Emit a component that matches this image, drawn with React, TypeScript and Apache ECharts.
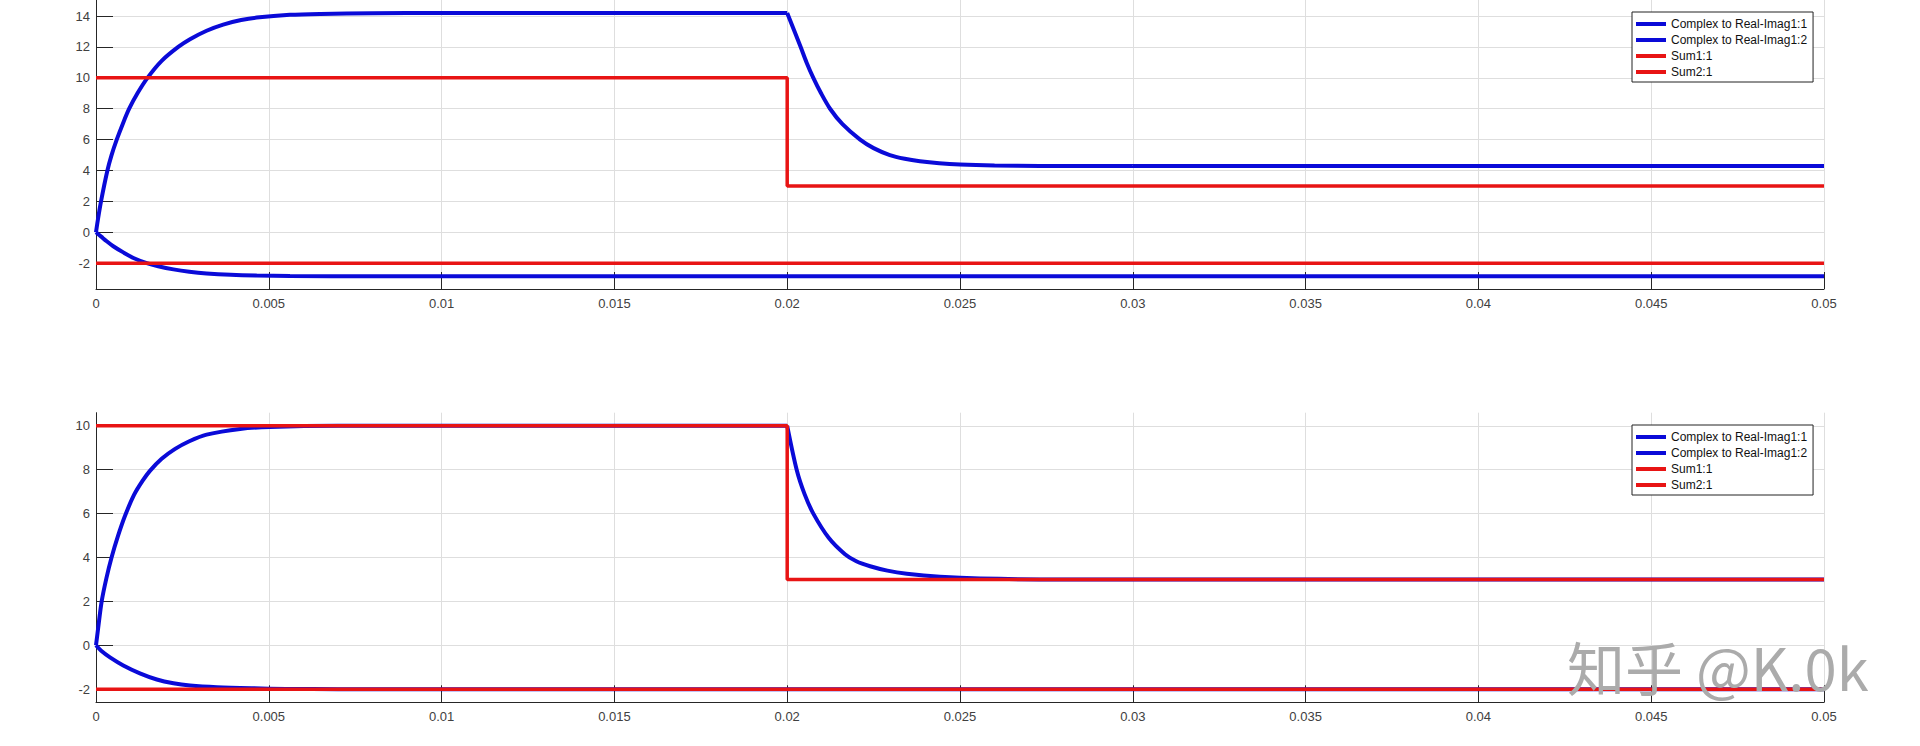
import React, { useEffect, useRef } from "react";
import * as echarts from "echarts";

type Pt = [number, number];

const seriesNames = ["Complex to Real-Imag1:1", "Complex to Real-Imag1:2", "Sum1:1", "Sum2:1"];
const topYTicks = [-2, 0, 2, 4, 6, 8, 10, 12, 14];
const bottomYTicks = [-2, 0, 2, 4, 6, 8, 10];

// Top panel
const topImag1Rise: Pt[] = [
  [0, 0], [0.00005, 0.75], [0.000145, 2], [0.00033, 4], [0.00045, 5], [0.0006, 6], [0.00078, 7.05],
  [0.00096, 8], [0.0012, 9], [0.00149, 10], [0.0019, 11.1], [0.00238, 12], [0.00272, 12.5],
  [0.0032, 13.05], [0.00368, 13.45], [0.0042, 13.74], [0.00465, 13.9], [0.00561, 14.08],
  [0.0065, 14.14], [0.008, 14.18], [0.01, 14.2], [0.02, 14.2],
];
const topImag1Fall: Pt[] = [
  [0.02, 14.2], [0.02039, 12], [0.02056, 11], [0.020756, 10], [0.02098, 9], [0.02124, 8], [0.0216, 7],
  [0.02211, 6], [0.0225, 5.45], [0.02297, 5.0], [0.0234, 4.76], [0.02384, 4.6], [0.0244, 4.47],
  [0.025, 4.39], [0.026, 4.33], [0.02731, 4.3], [0.03, 4.29], [0.05, 4.29],
];
const topImag2: Pt[] = [
  [0, 0], [0.00015, -0.28], [0.00031, -0.58], [0.0005, -0.9], [0.00079, -1.3], [0.0011, -1.68],
  [0.00147, -2.0], [0.0018, -2.2], [0.00224, -2.4], [0.0027, -2.55], [0.0032, -2.66],
  [0.0039, -2.75], [0.00465, -2.8], [0.00561, -2.83], [0.008, -2.84], [0.05, -2.84],
];
const topSum1: Pt[] = [[0, 10], [0.02, 10], [0.02, 3], [0.05, 3]];
const topSum2: Pt[] = [[0, -2], [0.05, -2]];

// Bottom panel
const bottomImag1Rise: Pt[] = [
  [0, 0], [0.00006, 0.75], [0.000164, 2], [0.0003, 3.05], [0.00045, 4], [0.00063, 4.95], [0.00084, 5.9],
  [0.0011, 6.85], [0.00135, 7.5], [0.00156, 7.95], [0.0019, 8.5], [0.00229, 8.95], [0.0027, 9.3],
  [0.0032, 9.6], [0.00417, 9.86], [0.00503, 9.95], [0.007, 10], [0.02, 10],
];
const bottomImag1Fall: Pt[] = [
  [0.02, 10], [0.020274, 8], [0.0205, 6.9], [0.020756, 6], [0.0212, 4.9], [0.021672, 4.15], [0.022, 3.83],
  [0.0224, 3.6], [0.0229, 3.4], [0.02346, 3.26], [0.02442, 3.12], [0.02558, 3.04], [0.028, 3.0],
  [0.05, 3.0],
];
const bottomImag2: Pt[] = [
  [0, 0], [0.00015, -0.25], [0.000405, -0.55], [0.00079, -0.92], [0.00127, -1.28],
  [0.00176, -1.56], [0.00224, -1.73], [0.00272, -1.83], [0.0035, -1.91], [0.0045, -1.96],
  [0.0055, -1.99], [0.007, -2], [0.05, -2],
];
const bottomSum1: Pt[] = [[0, 10], [0.02, 10], [0.02, 3], [0.05, 3]];
const bottomSum2: Pt[] = [[0, -2], [0.05, -2]];

const BLUE = "#0a0ad8";
const RED = "#e81414";
const FONT = "'Liberation Sans', Arial, sans-serif";

function xAxisCfg(gridIndex: number) {
  return {
    type: "value" as const,
    gridIndex,
    min: 0,
    max: 0.05,
    interval: 0.005,
    axisLine: { show: true, onZero: false, lineStyle: { color: "#262626", width: 1 } },
    axisTick: { show: true, inside: true, length: 17, lineStyle: { color: "#262626", width: 1 } },
    axisLabel: { color: "#404040", fontSize: 13, margin: 8, fontFamily: FONT },
    splitLine: { show: true, lineStyle: { color: "#dedede", width: 1 } },
  };
}

function yAxisCfg(gridIndex: number, min: number, max: number, ticks: number[]) {
  return {
    type: "value" as const,
    gridIndex,
    min,
    max,
    axisLine: { show: true, onZero: false, lineStyle: { color: "#262626", width: 1 } },
    axisTick: { show: true, inside: true, length: 17, customValues: ticks, lineStyle: { color: "#262626", width: 1 } },
    axisLabel: { color: "#404040", fontSize: 13, margin: 6, fontFamily: FONT, customValues: ticks },
    splitLine: { show: true, lineStyle: { color: "#dedede", width: 1 } },
  };
}

function lineSeries(name: string, data: Pt[], color: string, idx: number, width: number, smooth: number | false) {
  return {
    type: "line" as const,
    name,
    data,
    xAxisIndex: idx,
    yAxisIndex: idx,
    showSymbol: false,
    symbol: "none",
    smooth,
    color,
    lineStyle: { color, width },
  };
}

function legendCfg(top: number) {
  return {
    data: seriesNames,
    orient: "vertical" as const,
    left: 1632,
    top,
    icon: "rect",
    itemWidth: 30,
    itemHeight: 4,
    itemGap: 0,
    padding: [4, 6, 2, 4],
    borderColor: "#222",
    borderWidth: 1,
    borderRadius: 0,
    backgroundColor: "#fff",
    selectedMode: false,
    textStyle: { color: "#111", fontSize: 12, fontFamily: FONT, lineHeight: 16 },
  };
}

export default function App() {
  const ref = useRef<HTMLDivElement>(null);
  useEffect(() => {
    if (!ref.current) return;
    const chart = echarts.init(ref.current, undefined, { renderer: "svg" });
    chart.setOption({
      animation: false,
      backgroundColor: "#fff",
      grid: [
        { left: 96, top: 0, width: 1728, height: 289 },
        { left: 96, top: 412.7, width: 1728, height: 289.6 },
      ],
      xAxis: [xAxisCfg(0), xAxisCfg(1)],
      yAxis: [yAxisCfg(0, -3.67, 15.04, topYTicks), yAxisCfg(1, -2.6, 10.6, bottomYTicks)],
      legend: [legendCfg(12), legendCfg(425)],
      series: [
        lineSeries(seriesNames[0], topImag1Rise, BLUE, 0, 4, 0.3),
        lineSeries(seriesNames[0], topImag1Fall, BLUE, 0, 4, 0.3),
        lineSeries(seriesNames[1], topImag2, BLUE, 0, 4, 0.3),
        lineSeries(seriesNames[2], topSum1, RED, 0, 3.5, false),
        lineSeries(seriesNames[3], topSum2, RED, 0, 3.5, false),
        lineSeries(seriesNames[0], bottomImag1Rise, BLUE, 1, 4, 0.3),
        lineSeries(seriesNames[0], bottomImag1Fall, BLUE, 1, 4, 0.3),
        lineSeries(seriesNames[1], bottomImag2, BLUE, 1, 4, 0.3),
        lineSeries(seriesNames[2], bottomSum1, RED, 1, 3.5, false),
        lineSeries(seriesNames[3], bottomSum2, RED, 1, 3.5, false),
      ],
      graphic: [
        {
          type: "text",
          x: 1567,
          y: 637,
          z: 101,
          style: {
            text: "知乎 @K.0k",
            fill: "#ababab",
            font: "58px 'Noto Sans CJK SC', sans-serif",
            textVerticalAlign: "top",
            shadowColor: "#ffffff",
            shadowBlur: 0,
            shadowOffsetX: -3,
            shadowOffsetY: 2,
          },
        },
      ],
    });
    return () => chart.dispose();
  }, []);
  return <div ref={ref} style={{ position: "fixed", left: 0, top: 0, width: 1920, height: 746 }} />;
}
